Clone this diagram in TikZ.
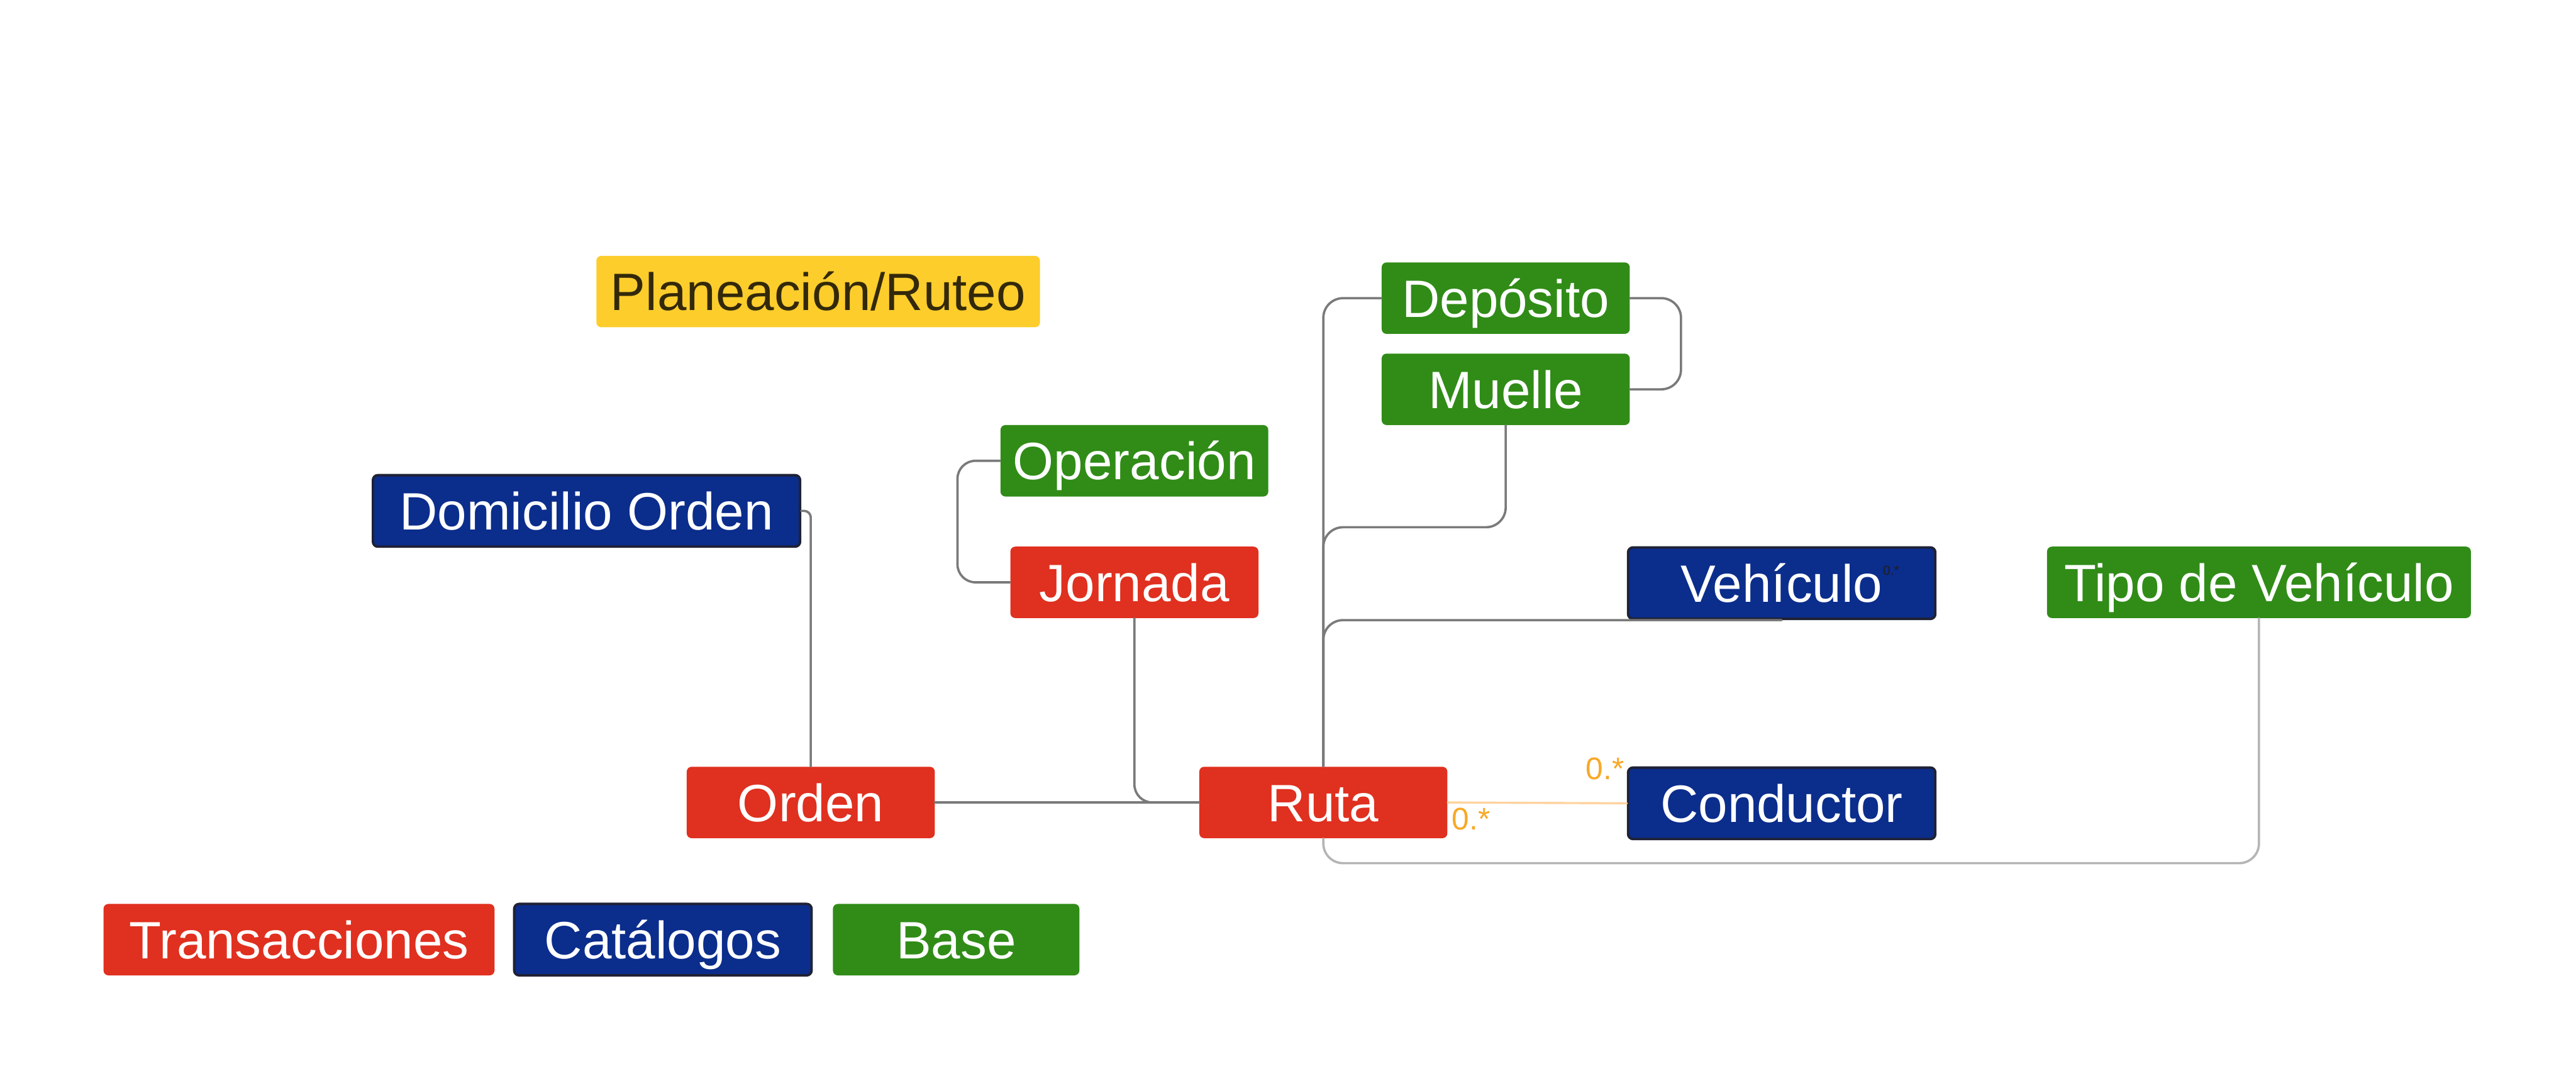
\documentclass[tikz,border=0pt]{standalone}
\usepackage{fontspec}
\setmainfont{Liberation Sans}
\usetikzlibrary{calc}
\definecolor{cRed}{HTML}{E0301F}
\definecolor{cBlue}{HTML}{0B2D8C}
\definecolor{cGreen}{HTML}{308C17}
\definecolor{cYellow}{HTML}{FDCD2C}
\definecolor{cYText}{HTML}{33290A}
\definecolor{cBorder}{HTML}{1F2235}
\definecolor{cLine}{HTML}{7A7A7A}
\definecolor{cLight}{HTML}{B5B5B5}
\definecolor{cOrLine}{HTML}{FFD39F}
\definecolor{cOrText}{HTML}{F8A828}
\definecolor{cDark}{HTML}{1E1E1E}
\begin{document}
\begin{tikzpicture}[x=1pt,y=-1pt,
 ent/.style={rectangle, rounded corners=3pt, inner sep=0pt, text height=23pt, text depth=0pt,
   font=\fontsize{32}{38}\selectfont, text=white, minimum height=43.5pt},
 trbox/.style={ent, fill=cRed},
 catbox/.style={ent, fill=cBlue, draw=cBorder, line width=1.5pt},
 basbox/.style={ent, fill=cGreen},
 plbox/.style={ent, fill=cYellow, text=cYText},
 conn/.style={draw=cLine, line width=1.4pt, line cap=round},
 lconn/.style={draw=cLight, line width=1.4pt, line cap=round},
 oconn/.style={draw=cOrLine, line width=1.3pt, line cap=round},
 mult/.style={font=\fontsize{19}{22}\selectfont, text=cOrText, inner sep=0pt},
]
\useasboundingbox (0,0) rectangle (1568,658);
\fill[white] (0,0) rectangle (1568,658);

% nodes
\node[plbox, minimum width=270pt] (plan) at (498,177.5) {Planeación/Ruteo};
\node[basbox, minimum width=151pt] (dep) at (916.5,181.5) {Depósito};
\node[basbox, minimum width=151pt] (mue) at (916.5,237) {Muelle};
\node[basbox, minimum width=163pt] (op) at (690.5,280.5) {Operación};
\node[catbox, minimum width=260pt] (dom) at (357,311) {Domicilio Orden};
\node[trbox, minimum width=151pt] (jor) at (690.5,354.5) {Jornada};
\node[catbox, minimum width=187pt] (veh) at (1084.5,355) {Vehículo};
\node[basbox, minimum width=258pt] (tipo) at (1375,354.5) {Tipo de Vehículo};
\node[trbox, minimum width=151pt] (orden) at (493.5,488.5) {Orden};
\node[trbox, minimum width=151pt] (ruta) at (805.5,488.5) {Ruta};
\node[catbox, minimum width=187pt] (cond) at (1084.5,489) {Conductor};

% legend
\node[trbox, minimum width=238pt] (ltr) at (182,572) {Transacciones};
\node[catbox, minimum width=181pt] (lcat) at (403.5,572) {Catálogos};
\node[basbox, minimum width=150pt] (lbase) at (582,572) {Base};

% small label on Vehiculo
\node[anchor=base west, inner sep=0pt, text=cDark, font=\fontsize{8}{9}\selectfont] (vlab) at (1146,350) {0.*};

% connectors
\draw[conn, rounded corners=4pt] (dom.east) -| (orden.north);
\draw[conn] (orden.east) -- (ruta.west);
\draw[conn, rounded corners=11pt] (jor.south) |- (ruta.west);
\draw[conn, rounded corners=11pt] (op.west) -- ++(-26,0) |- (jor.west);
\draw[conn, rounded corners=12pt] (dep.east) -- ++(31,0) |- (mue.east);
\draw[conn, rounded corners=12pt] (dep.west) -| (ruta.north);
\coordinate (mj) at ($(ruta.north |- mue.south)+(0,62)$);
\draw[conn, rounded corners=12pt] (mue.south) |- (mj) -- (ruta.north);
\draw[conn, rounded corners=12pt] (veh.south) -| (ruta.north);
\draw[lconn, rounded corners=12pt] (ruta.south) -- ++(0,15) -| (tipo.south);
\draw[oconn] (ruta.east) -- (cond.west)
  node[mult, pos=0, anchor=base west, xshift=2pt, yshift=-16.5pt] (m1) {0.*}
  node[mult, pos=1, anchor=base east, xshift=-1pt, yshift=14.5pt] (m2) {0.*};
\end{tikzpicture}
\end{document}
